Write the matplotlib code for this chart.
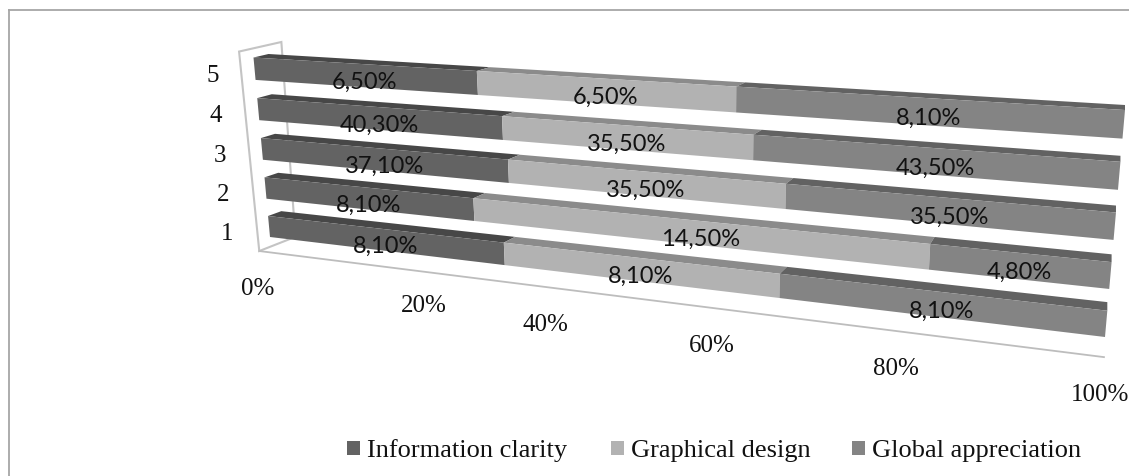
import numpy as np
import matplotlib
matplotlib.use("Agg")
import matplotlib.pyplot as plt
from matplotlib.patches import Polygon, Rectangle

# rows bottom to top, values as printed on the bars (each row is stacked to 100%)
rows = ["1", "2", "3", "4", "5"]
series = ["Information clarity", "Graphical design", "Global appreciation"]
info_clarity = [8.1, 8.1, 37.1, 40.3, 6.5]
graphical_design = [8.1, 14.5, 35.5, 35.5, 6.5]
global_appreciation = [8.1, 4.8, 35.5, 43.5, 8.1]
tick_labels = ["0%", "20%", "40%", "60%", "80%", "100%"]
tick_values = [0, 0.2, 0.4, 0.6, 0.8, 1.0]

front_colors = ["#636363", "#b2b2b2", "#848484"]
top_colors = ["#474747", "#8b8b8b", "#626262"]
BAR_H = 0.55
TOP_V = 4 + BAR_H


def homography(corners):
    # corners for (u,v) = (0,0), (1,0), (0,TOP_V), (1,TOP_V)
    src = [(0, 0), (1, 0), (0, TOP_V), (1, TOP_V)]
    a = []
    b = []
    for (u, v), (x, y) in zip(src, corners):
        a.append([u, v, 1, 0, 0, 0, -u * x, -v * x])
        a.append([0, 0, 0, u, v, 1, -u * y, -v * y])
        b += [x, y]
    h = np.linalg.solve(np.array(a, float), np.array(b, float))
    return np.append(h, 1).reshape(3, 3)


H_FRONT = homography([(270, 238), (1105, 338), (253.5, 58.5), (1125, 111)])
H_REAR = homography([(283, 233), (1105, 329), (268.5, 55), (1125, 106)])


def project(u, v, w=0.0):
    # w = 0 is the front of the bars, w = 1 their rear
    f = H_FRONT @ [u, v, 1]
    r = H_REAR @ [u, v, 1]
    f = f[:2] / f[2]
    r = r[:2] / r[2]
    return f + w * (r - f)


fig = plt.figure(figsize=(11.29, 4.77), dpi=100)
ax = fig.add_axes([0, 0, 1, 1])
ax.set_xlim(0, 1129)
ax.set_ylim(477, 0)
ax.axis("off")

# chart frame, only top and left are in the picture
ax.plot([9, 1129], [10.5, 10.5], color="#a6a6a6", lw=1.3)
ax.plot([9, 9], [10.5, 477], color="#a6a6a6", lw=1.3)

# side wall and floor
wall_c = "#c4c4c4"
FLOOR_V = -0.25
WALL_V = 4.77
W_A = -0.9
W_B = 1.9
wall = [project(0, FLOOR_V, W_A), project(0, WALL_V, W_A), project(0, WALL_V, W_B), project(0, FLOOR_V, W_B)]
ax.add_patch(Polygon(wall, closed=True, fill=False, edgecolor=wall_c, lw=1.5))
p0 = project(0, FLOOR_V, W_A)
p1 = project(1, FLOOR_V, W_A)
ax.plot([p0[0], p1[0]], [p0[1], p1[1]], color="#bdbdbd", lw=1.3)

# bars
for r in range(len(rows)):
    vals = np.array([info_clarity[r], graphical_design[r], global_appreciation[r]])
    edges = np.concatenate([[0], np.cumsum(vals)]) / vals.sum()
    v0 = r
    v1 = r + BAR_H
    for s in range(3):
        u0, u1 = edges[s], edges[s + 1]
        front = [project(u0, v0), project(u1, v0), project(u1, v1), project(u0, v1)]
        top = [project(u0, v1), project(u1, v1), project(u1, v1, 1), project(u0, v1, 1)]
        ax.add_patch(Polygon(top, closed=True, facecolor=top_colors[s], edgecolor="none"))
        ax.add_patch(Polygon(front, closed=True, facecolor=front_colors[s], edgecolor="none"))
        cx, cy = np.mean(front, axis=0)
        ax.text(cx - 1, cy + 5.5, ("%.2f%%" % vals[s]).replace(".", ","), ha="center", va="center",
                fontsize=17, family="Lato", color="#111111")

# axis labels
serif = "Liberation Serif"
tick_nudge = [-2, 27, -2, -2, -2, -4]
for t, lab, dx in zip(tick_values, tick_labels, tick_nudge):
    x, y = project(t, FLOOR_V, W_A)
    ax.text(x + dx, y + 37, lab, ha="center", va="center", fontsize=18, family=serif, color="#111111")
for r, lab in enumerate(rows):
    x, y = project(0, r + BAR_H / 2)
    ax.text(x - 42, y + 6, lab, ha="center", va="center", fontsize=18, family=serif, color="#111111")

# legend
swatch_x = [347, 611, 852]
for s, name in enumerate(series):
    ax.add_patch(Rectangle((swatch_x[s], 442), 13, 13.5, facecolor=front_colors[s], edgecolor="none"))
    ax.text(swatch_x[s] + 20, 451, name, ha="left", va="center", fontsize=19, family=serif, color="#111111")

fig.savefig("out.png", dpi=100)
